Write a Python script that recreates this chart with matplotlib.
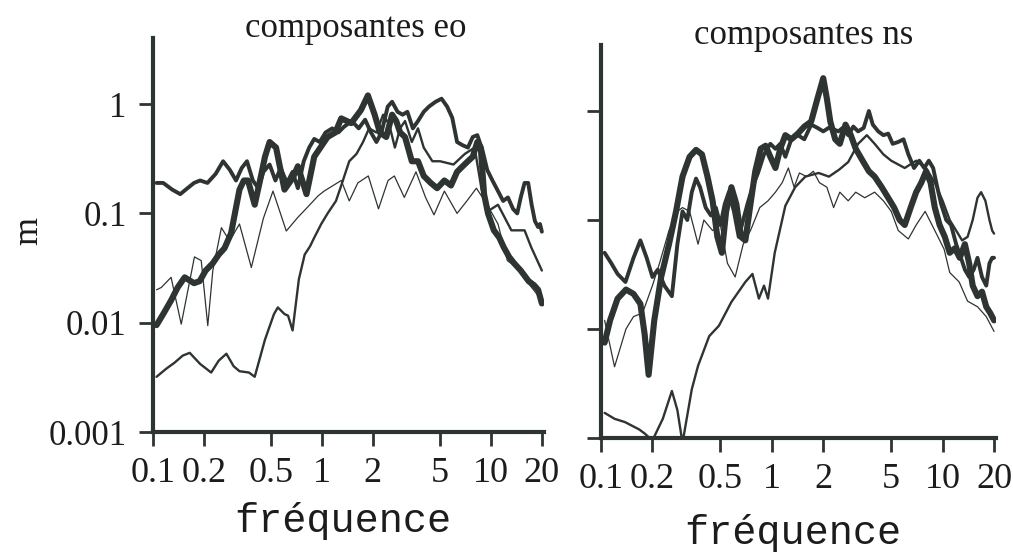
import matplotlib
matplotlib.use("Agg")
import matplotlib.pyplot as plt
from matplotlib.ticker import FixedLocator, FixedFormatter, NullLocator

# ---------------- data: spectral amplitude vs frequency ----------------
# Panel "composantes eo"
eo_a_f = [0.105, 0.115, 0.13, 0.145, 0.16, 0.175, 0.19, 0.21, 0.235, 0.26, 0.285, 0.31, 0.335,
          0.36, 0.39, 0.42, 0.45, 0.49, 0.53, 0.57, 0.62, 0.67, 0.72, 0.78, 0.84, 0.9, 0.97,
          1.05, 1.15, 1.25, 1.35, 1.5, 1.65, 1.8, 1.95, 2.1, 2.25, 2.45, 2.6, 2.8, 3.0, 3.2,
          3.45, 3.7, 4.0, 4.3, 4.7, 5.1, 5.5, 5.9, 6.3, 6.8, 7.3, 7.8, 8.3, 8.9, 9.5, 10.2,
          11.0, 11.8, 12.6, 13.5, 14.3, 15.0, 15.8, 16.6, 17.4, 18.2, 19.0, 19.5, 20.0]
eo_a_m = [0.19, 0.19, 0.165, 0.15, 0.17, 0.19, 0.2, 0.19, 0.23, 0.3, 0.25, 0.2, 0.26,
          0.3, 0.2, 0.17, 0.24, 0.28, 0.2, 0.26, 0.19, 0.24, 0.17, 0.3, 0.4, 0.48, 0.45,
          0.55, 0.6, 0.55, 0.62, 0.7, 0.6, 0.72, 0.55, 0.45, 0.55, 0.95, 1.05, 0.85, 0.8, 0.85,
          0.6, 0.7, 0.85, 0.95, 1.05, 1.12, 0.95, 0.75, 0.45, 0.42, 0.4, 0.5, 0.52, 0.38, 0.25, 0.2,
          0.16, 0.13, 0.14, 0.11, 0.1, 0.14, 0.19, 0.19, 0.12, 0.085, 0.075, 0.08, 0.068]

eo_b_f = [0.105, 0.115, 0.128, 0.14, 0.154, 0.175, 0.189, 0.205, 0.226, 0.245, 0.265, 0.29,
          0.325, 0.345, 0.365, 0.4, 0.43, 0.46, 0.49, 0.535, 0.6, 0.67, 0.72, 0.81, 0.9, 1.0,
          1.08, 1.2, 1.3, 1.49, 1.7, 1.87, 2.05, 2.2, 2.4, 2.6, 2.75, 2.9, 3.1, 3.4, 3.7, 4.0,
          4.4, 4.8, 5.3, 5.8, 6.3, 6.8, 7.3, 7.8, 8.3, 8.7, 9.1, 9.6, 10.4, 11.2, 11.9, 12.8,
          13.7, 15.0, 16.7, 18.0, 19.0, 20.0]
eo_b_m = [0.0095, 0.012, 0.016, 0.021, 0.026, 0.023, 0.024, 0.03, 0.035, 0.042, 0.048, 0.066,
          0.165, 0.2, 0.2, 0.12, 0.2, 0.33, 0.45, 0.4, 0.165, 0.21, 0.27, 0.15, 0.33, 0.42,
          0.5, 0.55, 0.74, 0.67, 0.88, 1.2, 0.8, 0.55, 0.5, 0.8, 0.7, 0.55, 0.5, 0.3, 0.3, 0.22,
          0.19, 0.17, 0.2, 0.18, 0.24, 0.27, 0.3, 0.33, 0.45, 0.4, 0.15, 0.1, 0.07, 0.06, 0.049, 0.04,
          0.035, 0.03, 0.024, 0.022, 0.02, 0.015]

eo_c_f = [0.105, 0.12, 0.134, 0.15, 0.165, 0.19, 0.221, 0.245, 0.272, 0.3, 0.325, 0.37, 0.4,
          0.46, 0.52, 0.548, 0.6, 0.63, 0.67, 0.73, 0.79, 0.85, 0.9, 0.99, 1.08, 1.21, 1.3,
          1.45, 1.6, 1.75, 1.9, 2.1, 2.3, 2.5, 2.7, 2.9, 3.1, 3.4, 3.7, 4.0, 4.5, 5.0, 6.0,
          7.0, 8.0, 8.8, 9.8, 11.0, 13.2, 15.8, 17.3, 20.0]
eo_c_m = [0.0032, 0.0038, 0.0043, 0.005, 0.0053, 0.0042, 0.0035, 0.0045, 0.0052, 0.004, 0.0036,
          0.0035, 0.0032, 0.007, 0.012, 0.0138, 0.012, 0.0116, 0.0085, 0.025, 0.042, 0.05, 0.06,
          0.08, 0.1, 0.13, 0.18, 0.3, 0.35, 0.45, 0.6, 0.55, 0.8, 0.65, 0.4, 0.6, 0.7, 0.45, 0.6,
          0.4, 0.3, 0.3, 0.28, 0.35, 0.4, 0.165, 0.107, 0.12, 0.07, 0.07, 0.049, 0.03]

eo_d_f = [0.105, 0.112, 0.128, 0.147, 0.176, 0.193, 0.211, 0.226, 0.254, 0.284, 0.325, 0.382,
          0.45, 0.513, 0.615, 0.72, 0.826, 0.95, 1.03, 1.3, 1.45, 1.63, 1.88, 2.16, 2.46, 2.68,
          3.07, 3.6, 4.1, 4.6, 5.3, 6.3, 7.2, 8.2, 9.5, 11.0, 12.5, 15.0, 17.0, 20.0]
eo_d_m = [0.02, 0.021, 0.026, 0.0097, 0.04, 0.037, 0.0094, 0.03, 0.074, 0.056, 0.08, 0.032,
          0.09, 0.16, 0.069, 0.092, 0.115, 0.145, 0.16, 0.2, 0.13, 0.19, 0.22, 0.11, 0.2, 0.22,
          0.14, 0.24, 0.14, 0.097, 0.16, 0.1, 0.13, 0.17, 0.12, 0.08, 0.037, 0.03, 0.022, 0.016]

# Panel "composantes ns"
ns_a_f = [0.105, 0.115, 0.125, 0.139, 0.155, 0.17, 0.185, 0.2, 0.215, 0.235, 0.26, 0.28, 0.3,
          0.32, 0.34, 0.36, 0.38, 0.41, 0.44, 0.47, 0.5, 0.53, 0.56, 0.6, 0.64, 0.68, 0.72,
          0.77, 0.83, 0.9, 0.98, 1.05, 1.12, 1.2, 1.3, 1.42, 1.55, 1.7, 1.85, 2.0, 2.15, 2.3,
          2.45, 2.6, 2.8, 3.0, 3.2, 3.45, 3.7, 3.9, 4.2, 4.5, 4.8, 5.1, 5.5, 5.9, 6.3, 6.8,
          7.3, 7.8, 8.3, 8.8, 9.3, 9.8, 10.5, 11.2, 12.0, 12.8, 13.5, 14.3, 15.2, 16.0, 17.0,
          18.0, 18.8, 19.5, 20.0]
ns_a_m = [0.05, 0.04, 0.032, 0.027, 0.045, 0.065, 0.045, 0.03, 0.035, 0.025, 0.02, 0.06, 0.12,
          0.1, 0.18, 0.24, 0.2, 0.13, 0.11, 0.13, 0.09, 0.14, 0.18, 0.12, 0.07, 0.1, 0.14,
          0.2, 0.27, 0.4, 0.5, 0.45, 0.5, 0.38, 0.55, 0.6, 0.55, 0.75, 0.7, 0.65, 0.7, 0.68,
          0.65, 0.7, 0.6, 0.72, 0.65, 0.7, 1.0, 0.75, 0.65, 0.6, 0.62, 0.5, 0.52, 0.55, 0.4, 0.3,
          0.35, 0.3, 0.35, 0.3, 0.2, 0.14, 0.1, 0.09, 0.06, 0.045, 0.035, 0.03, 0.035, 0.045, 0.03,
          0.025, 0.04, 0.045, 0.045]

ns_b_f = [0.105, 0.113, 0.125, 0.14, 0.155, 0.17, 0.18, 0.19, 0.205, 0.225, 0.25, 0.275, 0.3,
          0.33, 0.36, 0.39, 0.42, 0.45, 0.48, 0.51, 0.54, 0.58, 0.62, 0.66, 0.7, 0.75, 0.8,
          0.86, 0.92, 0.98, 1.05, 1.12, 1.2, 1.3, 1.42, 1.55, 1.7, 1.85, 2.0, 2.1, 2.2, 2.35,
          2.5, 2.7, 2.9, 3.1, 3.4, 3.7, 4.0, 4.4, 4.8, 5.2, 5.6, 6.0, 6.5, 7.0, 7.5, 8.0, 8.5,
          9.0, 9.6, 10.3, 11.0, 11.8, 12.6, 13.5, 14.3, 15.0, 16.0, 17.0, 18.0, 19.0, 20.0]
ns_b_m = [0.0075, 0.012, 0.019, 0.023, 0.021, 0.017, 0.009, 0.0038, 0.012, 0.03, 0.06, 0.12, 0.25,
          0.38, 0.44, 0.4, 0.25, 0.15, 0.07, 0.05, 0.12, 0.2, 0.14, 0.07, 0.065, 0.14, 0.28,
          0.45, 0.48, 0.38, 0.3, 0.45, 0.6, 0.55, 0.62, 0.72, 0.8, 1.3, 2.0, 1.3, 0.8, 0.55,
          0.5, 0.75, 0.6, 0.45, 0.35, 0.28, 0.25, 0.2, 0.16, 0.13, 0.1, 0.09, 0.13, 0.18, 0.22,
          0.28, 0.22, 0.13, 0.09, 0.07, 0.05, 0.055, 0.045, 0.06, 0.04, 0.025, 0.02, 0.022, 0.016,
          0.014, 0.012]

ns_c_f = [0.105, 0.12, 0.138, 0.167, 0.18, 0.2, 0.23, 0.26, 0.28, 0.3, 0.34, 0.37, 0.43, 0.49,
          0.58, 0.7, 0.77, 0.84, 0.9, 0.95, 1.04, 1.2, 1.37, 1.57, 1.88, 2.16, 2.48, 2.8, 3.2,
          3.6, 4.0, 4.5, 5.0, 6.0, 7.0, 8.0, 9.0, 10.0, 11.0, 12.0, 13.0, 14.0, 15.0, 16.0,
          16.8, 17.8, 18.8, 19.5, 20.0]
ns_c_m = [0.0017, 0.0015, 0.0014, 0.0012, 0.0011, 0.00095, 0.0015, 0.0027, 0.0018, 0.0009,
          0.0028, 0.0046, 0.0086, 0.0107, 0.0177, 0.027, 0.032, 0.019, 0.025, 0.019, 0.05, 0.135,
          0.2, 0.25, 0.27, 0.25, 0.29, 0.34, 0.5, 0.6, 0.5, 0.4, 0.35, 0.3, 0.35, 0.3, 0.22, 0.15,
          0.1, 0.08, 0.065, 0.07, 0.1, 0.16, 0.18, 0.15, 0.1, 0.08, 0.075]

ns_d_f = [0.105, 0.12, 0.14, 0.155, 0.175, 0.2, 0.22, 0.25, 0.28, 0.3, 0.33, 0.37, 0.4, 0.45,
          0.5, 0.55, 0.61, 0.68, 0.75, 0.85, 0.95, 1.05, 1.15, 1.25, 1.35, 1.45, 1.6, 1.75, 1.9,
          2.1, 2.3, 2.5, 2.8, 3.1, 3.5, 4.0, 4.5, 5.0, 5.5, 6.3, 7.0, 7.9, 9.0, 10.2, 11.0,
          12.5, 14.0, 16.0, 18.0, 20.0]
ns_d_m = [0.012, 0.0045, 0.01, 0.013, 0.014, 0.025, 0.04, 0.08, 0.12, 0.13, 0.12, 0.06, 0.1,
          0.08, 0.09, 0.04, 0.03, 0.06, 0.08, 0.13, 0.15, 0.18, 0.22, 0.3, 0.2, 0.27, 0.25, 0.28,
          0.22, 0.2, 0.13, 0.18, 0.15, 0.18, 0.16, 0.18, 0.15, 0.12, 0.08, 0.067, 0.09, 0.12,
          0.08, 0.054, 0.033, 0.027, 0.018, 0.016, 0.013, 0.0095]

freq_ticks = [0.1, 0.2, 0.5, 1, 2, 5, 10, 20]
freq_labels = ["0.1", "0.2", "0.5", "1", "2", "5", "10", "20"]
amp_ticks = [0.001, 0.01, 0.1, 1]
amp_labels = ["0.001", "0.01", "0.1", "1"]

# ---------------- figure ----------------
INK = "#2e3431"
TEXT = "#1c1c1c"
SERIF = ["Liberation Serif", "DejaVu Serif"]
MONO = ["Liberation Mono", "DejaVu Sans Mono"]

fig = plt.figure(figsize=(10.13, 5.54), dpi=100)
ax_eo = fig.add_axes([0.151, 0.2202, 0.3857, 0.7107])
ax_ns = fig.add_axes([0.5933, 0.2094, 0.3898, 0.7087])

panels = [
    (ax_eo, "composantes eo",
     [(eo_d_f, eo_d_m, 0.9), (eo_c_f, eo_c_m, 1.7), (eo_a_f, eo_a_m, 2.8), (eo_b_f, eo_b_m, 4.4)],
     True, 0.486, -0.225),
    (ax_ns, "composantes ns",
     [(ns_d_f, ns_d_m, 0.9), (ns_c_f, ns_c_m, 1.7), (ns_a_f, ns_a_m, 2.8), (ns_b_f, ns_b_m, 4.4)],
     False, 0.486, -0.242),
]

for ax, title, series, show_ylabels, lx, ly in panels:
    for f, m, lw in series:
        ax.plot(f, m, color=INK, lw=lw, solid_joinstyle="round", solid_capstyle="round")
    ax.set_xscale("log")
    ax.set_yscale("log")
    ax.set_xlim(0.1, 20.5)
    ax.set_ylim(0.001, 4)

    ax.xaxis.set_major_locator(FixedLocator(freq_ticks))
    ax.xaxis.set_major_formatter(FixedFormatter(freq_labels))
    ax.xaxis.set_minor_locator(NullLocator())
    ax.yaxis.set_major_locator(FixedLocator(amp_ticks))
    ax.yaxis.set_major_formatter(FixedFormatter(amp_labels if show_ylabels else [""] * 4))
    ax.yaxis.set_minor_locator(NullLocator())

    for side in ("top", "right"):
        ax.spines[side].set_visible(False)
    for side in ("left", "bottom"):
        ax.spines[side].set_linewidth(3)
        ax.spines[side].set_color(INK)
        ax.spines[side].set_capstyle("projecting")

    ax.tick_params(axis="both", direction="out", length=10, width=2, color=INK)
    ax.tick_params(axis="x", pad=8)
    ax.tick_params(axis="y", pad=9)
    for lab in ax.get_xticklabels():
        lab.set_fontfamily(SERIF)
        lab.set_fontsize(26)
        lab.set_color(TEXT)
    for lab in ax.get_yticklabels():
        lab.set_fontfamily(SERIF)
        lab.set_fontsize(25)
        lab.set_color(TEXT)

    ax.text(0.236, 1.003, title, transform=ax.transAxes, ha="left", va="baseline",
            fontsize=25, family=SERIF, color=TEXT)
    ax.set_xlabel("fréquence", fontsize=29, family=MONO, color=TEXT)
    ax.xaxis.label.set_va("center")
    ax.xaxis.set_label_coords(lx, ly)

ax_eo.set_ylabel("m", fontsize=26, family=SERIF, color=TEXT, rotation=90)
ax_eo.yaxis.label.set_va("center")
ax_eo.yaxis.set_label_coords(-0.317, 0.511)

fig.savefig("out.png", dpi=100, facecolor="white")
